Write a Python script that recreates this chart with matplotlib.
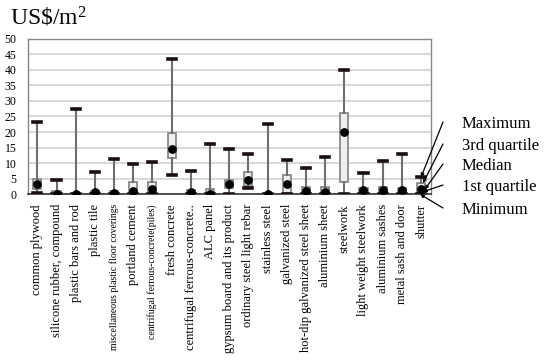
import matplotlib
matplotlib.use("Agg")
import matplotlib.pyplot as plt
import numpy as np

categories = ["common plywood", "silicone rubber, compound", "plastic bars and rod",
              "plastic tile", "miscellaneous plastic floor coverings", "portland cement",
              "centrifugal ferrous-concrete(piles)", "fresh concrete",
              "centrifugal ferrous-concrete..", "ALC panel", "gypsum board and its product",
              "ordinary steel light rebar", "stainless steel", "galvanized steel",
              "hot-dip galvanized steel sheet", "aluminium sheet", "steelwork",
              "light weight steelwork", "aluminium sashes", "metal sash and door", "shutter"]
maximum = [23.1, 4.5, 27.3, 7.2, 11.2, 9.7, 10.4, 43.4, 7.5, 16.2, 14.5, 12.8, 22.5,
           11.0, 8.6, 12.0, 40.0, 6.8, 10.8, 12.9, 5.5]
q3 = [4.8, 1.1, 0.0, 1.2, 0.9, 3.9, 4.1, 19.6, 1.3, 1.6, 4.5, 7.1, 0.0,
      6.3, 2.5, 2.5, 26.0, 2.1, 2.4, 1.9, 3.6]
median = [3.3, 0.2, 0.0, 0.6, 0.3, 1.1, 1.6, 14.5, 0.6, 0.0, 3.2, 4.5, 0.0,
          3.2, 0.9, 0.7, 19.9, 1.5, 1.3, 1.4, 1.6]
q1 = [1.6, 0.0, 0.0, 0.0, 0.0, 0.0, 0.0, 11.6, 0.0, 0.0, 1.9, 2.7, 0.0,
      0.3, 0.0, 0.0, 3.9, 0.5, 0.4, 0.85, 0.3]
minimum = [0.3, 0.0, 0.0, 0.0, 0.0, 0.0, 0.0, 6.3, 0.0, 0.0, 0.2, 2.1, 0.0,
           0.2, 0.0, 0.0, 0.2, 0.0, 0.0, 0.0, 0.0]
yticks = [0, 5, 10, 15, 20, 25, 30, 35, 40, 45, 50]
legend_labels = ["Maximum", "3rd quartile", "Median", "1st quartile", "Minimum"]

serif = "Liberation Serif"
plt.rcParams["mathtext.fontset"] = "custom"
plt.rcParams["mathtext.rm"] = serif
plt.rcParams["mathtext.it"] = serif + ":italic"
plt.rcParams["mathtext.bf"] = serif + ":bold"

fig = plt.figure(figsize=(5.5, 3.61), dpi=100)
ax = fig.add_axes([0.0504, 0.4618, 0.7326, 0.431])

stats = []
for i in range(len(categories)):
    stats.append(dict(med=median[i], q1=q1[i], q3=q3[i], whislo=minimum[i],
                      whishi=maximum[i], fliers=[], label=categories[i]))
pos = np.arange(len(categories))
ax.bxp(stats, positions=pos, widths=0.42, patch_artist=True, showfliers=False,
       boxprops=dict(facecolor="#efefef", edgecolor="#7f7f7f", linewidth=1.2),
       whiskerprops=dict(color="#6e6e6e", linewidth=1.5),
       capprops=dict(color="#1a1010", linewidth=2.6),
       medianprops=dict(visible=False), capwidths=0.42, zorder=3)
ax.scatter(pos, median, s=28, color="black", zorder=4)

ax.set_xlim(-0.5, len(categories) - 0.5)
ax.set_ylim(0, 50)
ax.set_yticks(yticks)
ax.set_yticklabels([str(t) for t in yticks], family=serif, fontsize=8.5)
ax.yaxis.grid(True, color="#d9d9d9", linewidth=1.5, zorder=0)
ax.set_axisbelow(True)
ax.tick_params(axis="both", length=0)
ax.tick_params(axis="y", pad=8)
ax.tick_params(axis="x", pad=7)
ax.set_xticks(pos)
ax.set_xticklabels(categories, rotation=90, family=serif, fontsize=9, va="top", ha="center")
for lbl in ax.get_xticklabels():
    if lbl.get_text() in ("miscellaneous plastic floor coverings", "centrifugal ferrous-concrete(piles)"):
        lbl.set_fontsize(7)
for s in ["top", "right", "left"]:
    ax.spines[s].set_color("#888888")
    ax.spines[s].set_linewidth(1.0)
ax.spines["bottom"].set_color("#333333")
ax.spines["bottom"].set_linewidth(1.2)

fig.text(0.018, 0.985, "US\\$/m$\\mathrm{^{2}}$", family=serif, fontsize=17, va="top", ha="left")

# annotation legend pointing to the last box
last = len(categories) - 1
targets = [(last, maximum[last]), (last + 0.1, q3[last]), (last + 0.2, median[last]),
           (last + 0.1, q1[last] + 0.5), (last - 0.05, minimum[last])]
text_y = [124, 146, 166, 187, 210]
for lab, (tx, ty), py in zip(legend_labels, targets, text_y):
    fig.text(462 / 550, 1 - py / 361, lab, family=serif, fontsize=12, va="center", ha="left")
    ax.annotate("", xy=(tx, ty), xycoords="data",
                xytext=(443 / 550, 1 - (py - 2) / 361), textcoords="figure fraction",
                arrowprops=dict(arrowstyle="-|>", color="black", lw=0.9,
                                mutation_scale=5, shrinkA=0, shrinkB=0),
                annotation_clip=False)

fig.savefig("out.png", dpi=100)
